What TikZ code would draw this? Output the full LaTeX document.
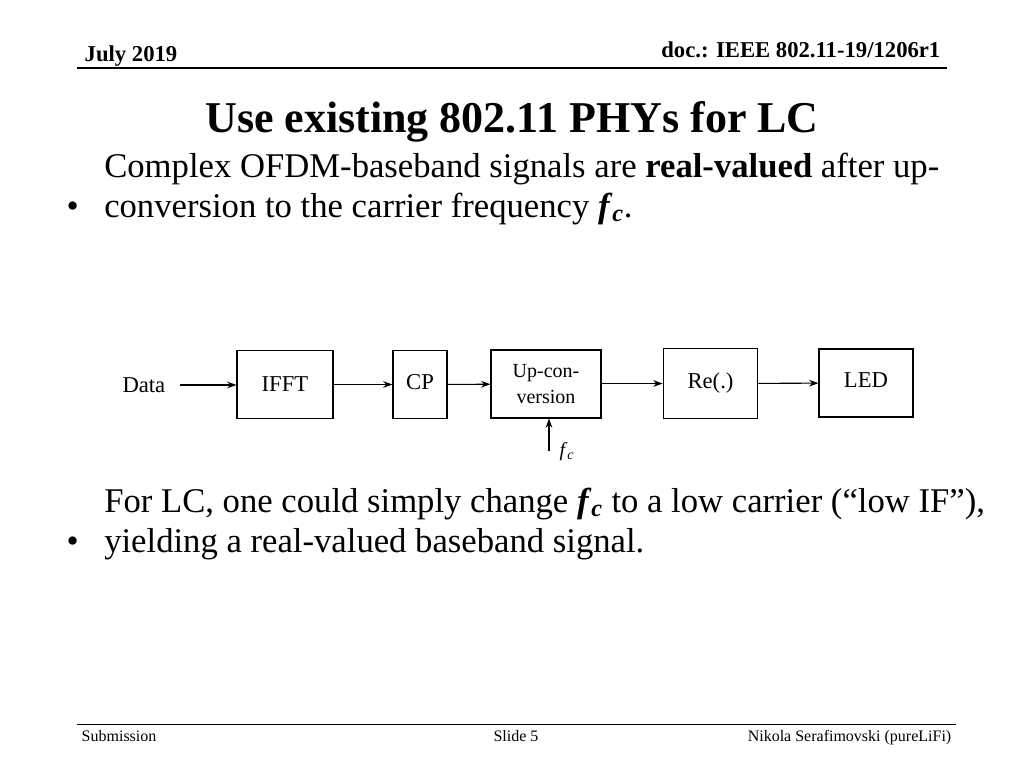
\documentclass[tikz,border=0pt]{standalone}
\usepackage{fontspec}
\setmainfont{Liberation Serif}
\usetikzlibrary{arrows.meta, positioning}
\newcommand{\fcsym}{\textbf{\textit{f}}\textsubscript{\textbf{\textit{c}}}}
\begin{document}
\begin{tikzpicture}[
            x=0.75pt, y=-0.75pt,
            block/.style={
                rectangle,
                draw=black,
                thick,
                inner sep=0pt,
                font=\fontsize{17}{19}\selectfont,
                align=center
            },
            flow/.style={-{Stealth[length=7pt,width=5pt]}, thick},
            body/.style={align=left, font=\fontsize{26}{30}\selectfont, inner sep=0pt}
        ]
            \useasboundingbox (0,0) rectangle (1024,768);

            % Header and footer
            \node[anchor=base west, font=\bfseries\fontsize{17}{19}\selectfont] (month) at (80,61) {July 2019};
            \node[anchor=base east, font=\bfseries\fontsize{17}{19}\selectfont] (doc) at (945,57) {doc.: IEEE 802.11-19/1206r1};
            \draw[thick] (77,68) -- (947,68);
            \node[font=\bfseries\fontsize{33}{37}\selectfont] (title) at (512,122) {Use existing 802.11 PHYs for LC};
            \draw (77,724) -- (956,724);
            \node[anchor=base west, font=\fontsize{12}{14}\selectfont] (sub) at (77,741) {Submission};
            \node[anchor=base, font=\fontsize{12}{14}\selectfont] (slide) at (516,741) {Slide 5};
            \node[anchor=base east, font=\fontsize{12}{14}\selectfont] (author) at (956,741) {Nikola Serafimovski (pureLiFi)};

            % Bullets
            \node[anchor=base west, font=\fontsize{26}{30}\selectfont] (b1) at (62,217) {\textbullet};
            \node[body, anchor=base west] (t1) at (104,217) {Complex OFDM-baseband signals are \textbf{real-valued} after up-\\conversion to the carrier frequency \fcsym.};
            \node[anchor=base west, font=\fontsize{26}{30}\selectfont] (b2) at (62,552) {\textbullet};
            \node[body, anchor=base west] (t2) at (104,552) {For LC, one could simply change \fcsym{} to a low carrier (``low IF''),\\yielding a real-valued baseband signal.};

            % Blocks
            \node[block, minimum width=72pt, minimum height=51pt] (ifft) at (285,384.5) {\raisebox{-4pt}{IFFT}};
            \node[block, minimum width=40.5pt, minimum height=51pt] (cp) at (420,384.5) {\raisebox{4pt}{CP}};
            \node[block, minimum width=82.5pt, minimum height=51pt, font=\fontsize{15}{19}\selectfont] (upconv) at (546,384) {Up-con-\\version};
            \node[block, minimum width=71pt, minimum height=52pt] (re) at (710.5,383.5) {Re(.)};
            \node[block, minimum width=70.5pt, minimum height=51pt] (led) at (866,383) {\raisebox{4pt}{LED}};
            \node[font=\fontsize{17}{19}\selectfont, anchor=east] (data) at (170,385) {Data};
            \coordinate (fcin) at (549,451);
            \node[font=\fontsize{15}{17}\selectfont] (fc) at (567,452) {\textit{f}\textsubscript{\textit{c}}};

            % Arrows
            \draw[flow] (data.east) ++(10,0) coordinate (dataout) -- (ifft.west |- dataout);
            \draw[flow] (ifft) -- (cp);
            \draw[flow] (cp) -- (upconv);
            \draw[flow] (upconv.east |- re) -- (re);
            \draw[flow] (re) -- (led);
            \draw[flow] (fcin) -- (fcin |- upconv.south);
        \end{tikzpicture}
\end{document}
